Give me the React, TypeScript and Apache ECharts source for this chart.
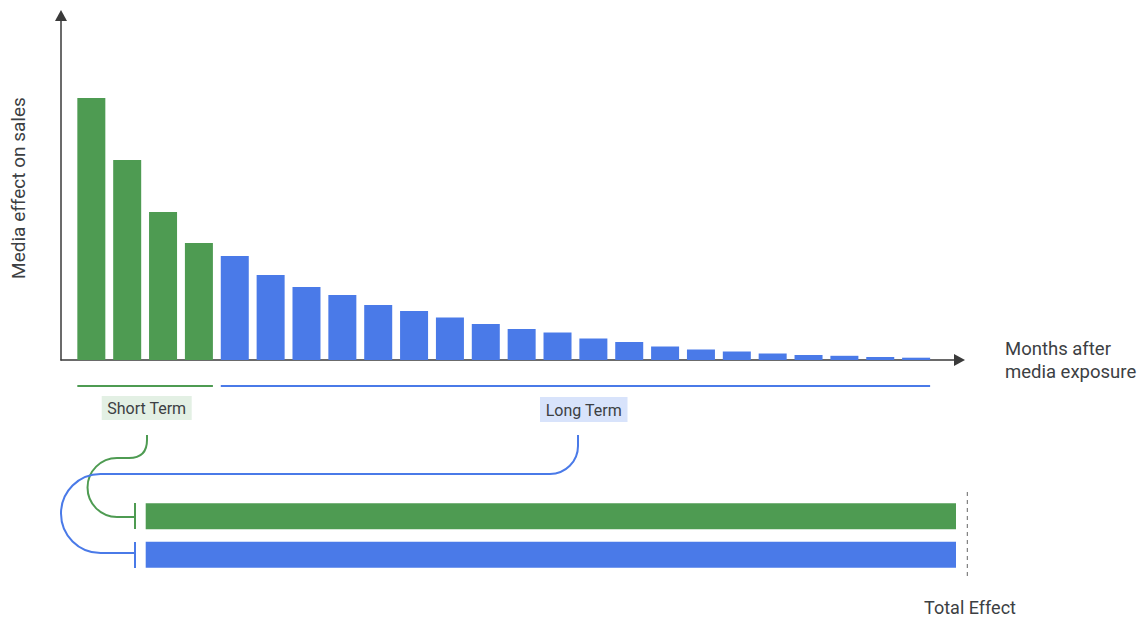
import React, { useEffect, useRef } from "react";
import * as echarts from "echarts";

// Monthly media effect on sales (arbitrary units)
const shortTermEffect = [262, 200, 148, 117];
const longTermEffect = [
  104, 85, 73, 65, 55, 49, 42.5, 36, 31, 27.5, 21.5, 18, 13.5, 10.5, 8.5, 6.5,
  5, 4.2, 3, 2.3,
];
const months = [...shortTermEffect, ...longTermEffect].map((_, i) => `M${i + 1}`);

// Total effect of each term (share of the total, %)
const totalCategories = ["Short Term", "Long Term"];
const totalEffect = [100, 100];

const GREEN = "#4e9b52";
const BLUE = "#4a7ae8";
const INK = "#3c4043";
const FONT = "Roboto, 'Noto Sans', sans-serif";

// layout of the monthly bars
const BAR_LEFT = 73.4;
const BAND = 35.86;
const BAR_W = 28;
const barEdge = (i: number) => BAR_LEFT + i * BAND + (BAND - BAR_W) / 2;

const shortLink =
  "M147,435 L147,440 Q147,458 129,458 L117,458 A29.5,29.5 0 0 0 117,517 L135,517";
const longLink =
  "M578,435 L578,446 A28,28 0 0 1 550,474 L100.5,474 A39.5,39.5 0 0 0 100.5,553 L135,553";

echarts.graphic.registerShape("shortLink", echarts.graphic.extendPath(shortLink, {}));
echarts.graphic.registerShape("longLink", echarts.graphic.extendPath(longLink, {}));

export default function App() {
  const ref = useRef<HTMLDivElement>(null);

  useEffect(() => {
    if (!ref.current) return;
    const chart = echarts.init(ref.current, null, { renderer: "svg" });

    const nShort = shortTermEffect.length;
    const nAll = months.length;
    const rangeY = 386;

    const axisLine = {
      show: true,
      symbol: ["none", "triangle"],
      symbolSize: [12, 11],
      lineStyle: { color: "#3a3a3a", width: 1.5 },
    };
    const hidden = {
      axisLine: { show: false },
      axisTick: { show: false },
      axisLabel: { show: false },
      splitLine: { show: false },
    };

    chart.setOption({
      animation: false,
      grid: [
        { left: 61, top: 15.5, width: 898.5, height: 344.5 },
        { left: BAR_LEFT, top: 10, width: BAND * nAll, height: 350 },
        { left: 145.7, top: 497, width: 810.3, height: 77 },
      ],
      xAxis: [
        { gridIndex: 0, type: "value", min: 0, max: 1, ...hidden, axisLine },
        { gridIndex: 1, type: "category", data: months, ...hidden },
        { gridIndex: 2, type: "value", min: 0, max: 100, ...hidden },
      ],
      yAxis: [
        { gridIndex: 0, type: "value", min: 0, max: 1, ...hidden, axisLine },
        { gridIndex: 1, type: "value", min: 0, max: 350, ...hidden },
        {
          gridIndex: 2,
          type: "category",
          data: totalCategories,
          inverse: true,
          ...hidden,
        },
      ],
      series: [
        {
          type: "bar",
          xAxisIndex: 1,
          yAxisIndex: 1,
          barWidth: BAR_W,
          data: [
            ...shortTermEffect.map((v) => ({ value: v, itemStyle: { color: GREEN } })),
            ...longTermEffect.map((v) => ({ value: v, itemStyle: { color: BLUE } })),
          ],
        },
        {
          type: "bar",
          xAxisIndex: 2,
          yAxisIndex: 2,
          barWidth: 26,
          data: totalEffect.map((v, i) => ({
            value: v,
            itemStyle: { color: i === 0 ? GREEN : BLUE },
          })),
        },
      ],
      graphic: [
        // term ranges under the monthly bars
        {
          type: "line",
          shape: { x1: barEdge(0), y1: rangeY, x2: barEdge(nShort - 1) + BAR_W, y2: rangeY },
          style: { stroke: GREEN, lineWidth: 2 },
        },
        {
          type: "line",
          shape: { x1: barEdge(nShort), y1: rangeY, x2: barEdge(nAll - 1) + BAR_W, y2: rangeY },
          style: { stroke: BLUE, lineWidth: 2 },
        },
        // term labels
        { type: "rect", shape: { x: 101.7, y: 396, width: 90, height: 24 }, style: { fill: "#e3f0e4" } },
        {
          type: "text",
          x: 146.7,
          y: 408.5,
          style: { text: "Short Term", font: `16px ${FONT}`, fill: INK, align: "center", verticalAlign: "middle" },
        },
        { type: "rect", shape: { x: 540, y: 397, width: 87.5, height: 25 }, style: { fill: "#d8e3fb" } },
        {
          type: "text",
          x: 583.7,
          y: 410,
          style: { text: "Long Term", font: `16px ${FONT}`, fill: INK, align: "center", verticalAlign: "middle" },
        },
        // connectors from the labels to the total bars
        { type: "shortLink", x: 0, y: 0, style: { fill: "none", stroke: GREEN, lineWidth: 2 } },
        { type: "longLink", x: 0, y: 0, style: { fill: "none", stroke: BLUE, lineWidth: 2 } },
        {
          type: "line",
          shape: { x1: 135, y1: 503, x2: 135, y2: 529 },
          style: { stroke: GREEN, lineWidth: 2 },
        },
        {
          type: "line",
          shape: { x1: 135, y1: 542, x2: 135, y2: 568 },
          style: { stroke: BLUE, lineWidth: 2 },
        },
        // total effect marker
        {
          type: "line",
          shape: { x1: 967.3, y1: 492, x2: 967.3, y2: 578 },
          style: { stroke: "#666", lineWidth: 1, lineDash: [4, 4] },
        },
        {
          type: "text",
          x: 970,
          y: 607,
          style: { text: "Total Effect", font: `18px ${FONT}`, fill: INK, align: "center", verticalAlign: "middle" },
        },
        // axis titles
        {
          type: "text",
          x: 1005,
          y: 338,
          style: {
            text: "Months after\nmedia exposure",
            font: `18.5px ${FONT}`,
            lineHeight: 22.5,
            fill: INK,
            align: "left",
            verticalAlign: "top",
          },
        },
        {
          type: "text",
          x: 18.3,
          y: 188,
          rotation: Math.PI / 2,
          style: {
            text: "Media effect on sales",
            font: `19px ${FONT}`,
            fill: INK,
            align: "center",
            verticalAlign: "middle",
          },
        },
      ],
    });

    return () => chart.dispose();
  }, []);

  return (
    <div
      ref={ref}
      style={{ position: "absolute", left: 0, top: 0, width: 1145, height: 619, background: "#fff" }}
    />
  );
}
